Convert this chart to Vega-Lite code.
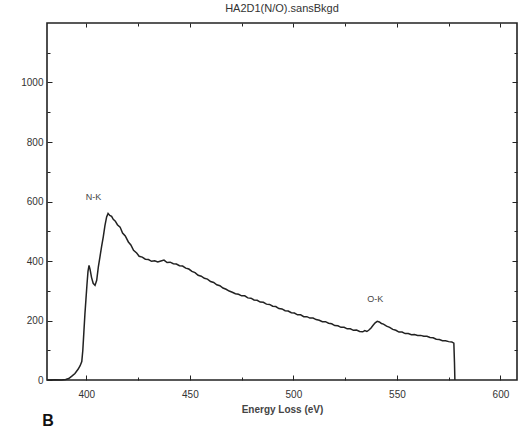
{
  "$schema": "https://vega.github.io/schema/vega-lite/v6.json",
  "width": 470,
  "height": 357,
  "autosize": {"type": "none"},
  "padding": {"left": 47, "top": 23, "right": 9, "bottom": 48},
  "background": "white",
  "title": {"text": "HA2D1(N/O).sansBkgd", "font": "Liberation Sans", "fontSize": 11, "fontWeight": "normal", "color": "#333", "offset": 9, "anchor": "middle"},
  "config": {
    "view": {"stroke": "#222", "strokeWidth": 1.6},
    "axis": {"domain": false, "grid": false, "labelFont": "Liberation Sans", "labelFontSize": 10, "labelColor": "#333", "tickColor": "#222", "tickWidth": 1, "titleFont": "Liberation Sans"}
  },
  "datasets": {
    "spec": [
      {"e":381,"v":0},{"e":385,"v":1},{"e":388,"v":0},{"e":390,"v":2},{"e":391.5,"v":5},{"e":393,"v":13},{"e":394.5,"v":22},{"e":396,"v":36},{"e":397,"v":48},{"e":397.8,"v":62},{"e":398.3,"v":100},{"e":398.8,"v":160},{"e":399.3,"v":220},{"e":399.8,"v":270},{"e":400.3,"v":320},{"e":400.8,"v":365},{"e":401.3,"v":385},{"e":401.8,"v":372},{"e":402.5,"v":345},{"e":403.3,"v":325},{"e":404.2,"v":318},{"e":405,"v":335},{"e":405.8,"v":380},{"e":406.6,"v":415},{"e":407.4,"v":450},{"e":408.2,"v":482},{"e":409,"v":520},{"e":409.8,"v":548},{"e":410.5,"v":560},{"e":411.3,"v":553},{"e":412.2,"v":550},{"e":413,"v":540},{"e":414,"v":534},{"e":415,"v":522},{"e":416.3,"v":514},{"e":417.5,"v":494},{"e":418.8,"v":484},{"e":420.3,"v":464},{"e":421.5,"v":454},{"e":422.8,"v":436},{"e":424.3,"v":427},{"e":425.5,"v":416},{"e":427,"v":413},{"e":428.5,"v":406},{"e":430,"v":405},{"e":431.5,"v":399},{"e":433,"v":401},{"e":434.5,"v":397},{"e":436,"v":400},{"e":437.5,"v":403},{"e":439,"v":395},{"e":440.5,"v":396},{"e":442,"v":391},{"e":443.5,"v":390},{"e":445,"v":384},{"e":446.5,"v":383},{"e":448,"v":376},{"e":449.5,"v":373},{"e":451,"v":365},{"e":452.5,"v":361},{"e":454,"v":352},{"e":455.5,"v":349},{"e":457,"v":342},{"e":458.5,"v":339},{"e":460,"v":331},{"e":461.5,"v":328},{"e":463,"v":320},{"e":464.5,"v":317},{"e":466,"v":309},{"e":467.5,"v":305},{"e":469,"v":299},{"e":470.5,"v":295},{"e":472,"v":290},{"e":473.5,"v":288},{"e":475,"v":283},{"e":476.5,"v":283},{"e":478,"v":276},{"e":479.5,"v":275},{"e":481,"v":269},{"e":482.5,"v":268},{"e":484,"v":262},{"e":485.5,"v":261},{"e":487,"v":255},{"e":488.5,"v":254},{"e":490,"v":248},{"e":491.5,"v":247},{"e":493,"v":240},{"e":494.5,"v":239},{"e":496,"v":233},{"e":497.5,"v":232},{"e":499,"v":226},{"e":500.5,"v":225},{"e":502,"v":219},{"e":503.5,"v":219},{"e":505,"v":213},{"e":506.5,"v":213},{"e":508,"v":208},{"e":509.5,"v":208},{"e":511,"v":203},{"e":512.5,"v":201},{"e":514,"v":196},{"e":515.5,"v":196},{"e":517,"v":191},{"e":518.5,"v":189},{"e":520,"v":183},{"e":521.5,"v":182},{"e":523,"v":177},{"e":524.5,"v":177},{"e":526,"v":172},{"e":527.5,"v":172},{"e":529,"v":167},{"e":530.5,"v":168},{"e":532,"v":163},{"e":533.5,"v":162},{"e":534.5,"v":166},{"e":535.5,"v":163},{"e":536.5,"v":168},{"e":537.5,"v":175},{"e":538.5,"v":184},{"e":539.5,"v":192},{"e":540.5,"v":197},{"e":541.5,"v":195},{"e":542.5,"v":190},{"e":543.5,"v":188},{"e":545,"v":181},{"e":546.5,"v":177},{"e":548,"v":170},{"e":549.5,"v":167},{"e":551,"v":161},{"e":552.5,"v":161},{"e":554,"v":156},{"e":555.5,"v":156},{"e":557,"v":152},{"e":558.5,"v":153},{"e":560,"v":150},{"e":561.5,"v":150},{"e":563,"v":147},{"e":564.5,"v":147},{"e":566,"v":143},{"e":567.5,"v":142},{"e":569,"v":137},{"e":570.5,"v":136},{"e":572,"v":132},{"e":573.5,"v":132},{"e":575,"v":129},{"e":576.5,"v":128},{"e":577.5,"v":124},{"e":577.8,"v":60},{"e":578,"v":0}
    ],
    "peaks": [
      {"e": 403.4, "v": 616, "t": "N-K"},
      {"e": 539.5, "v": 271, "t": "O-K"}
    ],
    "panel": [
      {"e": 381.5, "v": -137, "t": "B"}
    ]
  },
  "layer": [
    {
      "data": {"name": "spec"},
      "mark": {"type": "line", "color": "#222", "strokeWidth": 1.5},
      "encoding": {
        "x": {"field": "e", "type": "quantitative", "scale": {"domain": [381, 608], "nice": false, "zero": false},
          "axis": {"orient": "bottom", "values": [400,425,450,475,500,525,550,575,600], "labelExpr": "datum.value % 50 === 0 ? datum.label : ''",
            "tickSize": {"condition": {"test": "datum.value % 50 === 0", "value": -5}, "value": -3},
            "labelPadding": 14, "title": "Energy Loss (eV)", "titleFontSize": 10, "titleFontWeight": "bold", "titleColor": "#444", "titlePadding": 5}},
        "y": {"field": "v", "type": "quantitative", "scale": {"domain": [0, 1200], "nice": false},
          "axis": {"orient": "left", "values": [0,100,200,300,400,500,600,700,800,900,1000,1100], "labelExpr": "datum.value % 200 === 0 ? datum.label : ''", "format": "d",
            "tickSize": {"condition": {"test": "datum.value % 200 === 0", "value": -5}, "value": -3},
            "labelPadding": 9, "title": null}}
      }
    },
    {
      "data": {"name": "spec"},
      "mark": {"type": "line", "opacity": 0},
      "encoding": {
        "x": {"field": "e", "type": "quantitative",
          "axis": {"orient": "top", "values": [400,425,450,475,500,525,550,575,600], "labels": false, "title": null,
            "tickSize": {"condition": {"test": "datum.value % 50 === 0", "value": -4}, "value": -3}}},
        "y": {"field": "v", "type": "quantitative",
          "axis": {"orient": "right", "values": [100,200,300,400,500,600,700,800,900,1000,1100], "labels": false, "title": null,
            "tickSize": {"condition": {"test": "datum.value % 200 === 0", "value": -5}, "value": -3}}}
      }
    },
    {
      "data": {"name": "peaks"},
      "mark": {"type": "text", "font": "Liberation Sans", "baseline": "middle", "align": "center", "fontSize": 9, "color": "#444"},
      "encoding": {
        "x": {"field": "e", "type": "quantitative", "axis": null},
        "y": {"field": "v", "type": "quantitative", "axis": null},
        "text": {"field": "t"}
      }
    },
    {
      "data": {"name": "panel"},
      "mark": {"type": "text", "font": "Liberation Sans", "baseline": "middle", "align": "center", "fontSize": 16, "fontWeight": "bold", "color": "#111"},
      "encoding": {
        "x": {"field": "e", "type": "quantitative", "axis": null},
        "y": {"field": "v", "type": "quantitative", "axis": null},
        "text": {"field": "t"}
      }
    }
  ],
  "resolve": {"axis": {"x": "independent", "y": "independent"}}
}
